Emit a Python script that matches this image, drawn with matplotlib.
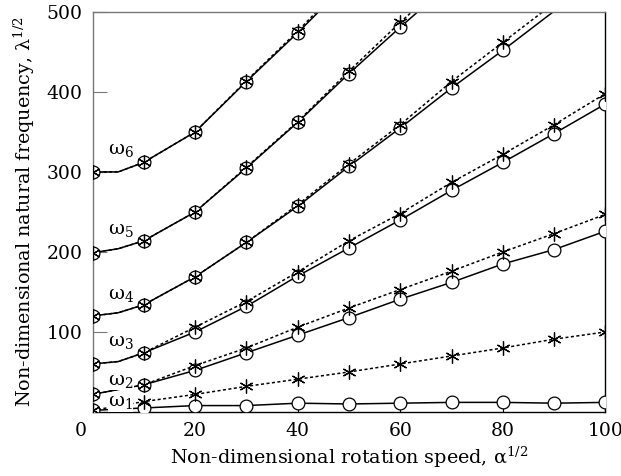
import numpy as np
import matplotlib
matplotlib.use("Agg")
import matplotlib.pyplot as plt
from matplotlib.transforms import ScaledTranslation

plt.rcParams['font.family'] = ['DejaVu Serif']
plt.rcParams['mathtext.fontset'] = 'dejavuserif'

# rotation speed at marker positions
x = np.arange(0, 101, 10)

# solid lines (circles) and dotted lines (asterisks), one pair per mode
w1_s = [2, 5, 8, 8, 11, 10, 11, 12, 12, 11, 12]
w1_d = [2, 13, 22, 32, 41, 50, 60, 70, 80, 91, 100]
w2_s = [22, 34, 52, 74, 96, 118, 141, 162, 185, 203, 226]
w2_d = [22, 34, 58, 80, 106, 130, 153, 176, 200, 223, 247]
w3_s = [60, 74, 100, 132, 170, 205, 240, 277, 312, 348, 385]
w3_d = [60, 74, 106, 138, 175, 214, 248, 287, 322, 359, 398]
w4_s = [120, 134, 169, 212, 257, 307, 355, 405, 452, 501, 548]
w4_d = [120, 134, 169, 212, 259, 310, 359, 413, 462, 511, 560]
w5_s = [199, 214, 250, 305, 362, 423, 481, 537]
w5_d = [199, 214, 250, 306, 363, 426, 487, 545]
w6_s = [300, 312, 350, 413, 474, 538]
w6_d = [300, 312, 350, 414, 476, 542]

# curve value at x = 5 (bend near the origin)
mid5 = [None, None, 63, 124, 204, 300]

labels = ['ω$_1$', 'ω$_2$', 'ω$_3$', 'ω$_4$', 'ω$_5$', 'ω$_6$']
label_y = [12, 39, 87, 146, 228, 328]

modes = [(w1_s, w1_d), (w2_s, w2_d), (w3_s, w3_d),
         (w4_s, w4_d), (w5_s, w5_d), (w6_s, w6_d)]

fig = plt.figure(figsize=(6.21, 4.76), dpi=100)
ax = fig.add_axes([0.149, 0.1345, 0.826, 0.8405])

asterisk = (6, 2, 0)

for (ys, yd), m in zip(modes, mid5):
    n = len(ys)
    xs = x[:n]
    xl = list(xs)
    ls_, ld_ = list(ys), list(yd)
    if m is not None:
        xl.insert(1, 5)
        ls_.insert(1, m)
        ld_.insert(1, m)
    ax.plot(xl, ls_, color='black', lw=1.1, zorder=2)
    ax.plot(xl, ld_, color='black', lw=1.1, ls=(0, (2, 1.6)), zorder=2)
    show_s = np.array(ys) <= 500
    show_d = np.array(yd) <= 500
    ax.plot(xs[show_s], np.array(ys)[show_s], ls='none', marker='o', ms=9.2,
            mfc='white', mec='black', mew=0.9, zorder=3)
    ax.plot(xs[show_d], np.array(yd)[show_d], ls='none', marker=asterisk,
            ms=10, mec='black', mew=0.9, zorder=4)

for lab, ly in zip(labels, label_y):
    ax.text(3.0, ly, lab, fontsize=14, ha='left', va='center', zorder=5,
            bbox=dict(facecolor='white', edgecolor='none', pad=0.3))

ax.set_xlim(0, 100)
ax.set_ylim(0, 500)
ax.set_xticks([0, 20, 40, 60, 80, 100])
ax.set_yticks([100, 200, 300, 400, 500])
ax.tick_params(axis='both', direction='in', labelsize=13.5)
ax.tick_params(axis='y', length=10, color='#777777', pad=7)
ax.tick_params(axis='x', length=8, pad=7)

for side in ['top', 'left']:
    ax.spines[side].set_color('#777777')
for side in ['right', 'bottom']:
    ax.spines[side].set_color('black')
for s in ax.spines.values():
    s.set_linewidth(1.0)

ax.set_xlabel('Non-dimensional rotation speed, α$^{1/2}$', fontsize=13.8, labelpad=4)
ax.set_ylabel('Non-dimensional natural frequency, λ$^{1/2}$', fontsize=13.8, labelpad=7)

fig.canvas.draw()
lab0 = ax.get_xticklabels()[0]
lab0.set_transform(lab0.get_transform() + ScaledTranslation(-0.12, 0, fig.dpi_scale_trans))

fig.savefig('out.png', dpi=100)
